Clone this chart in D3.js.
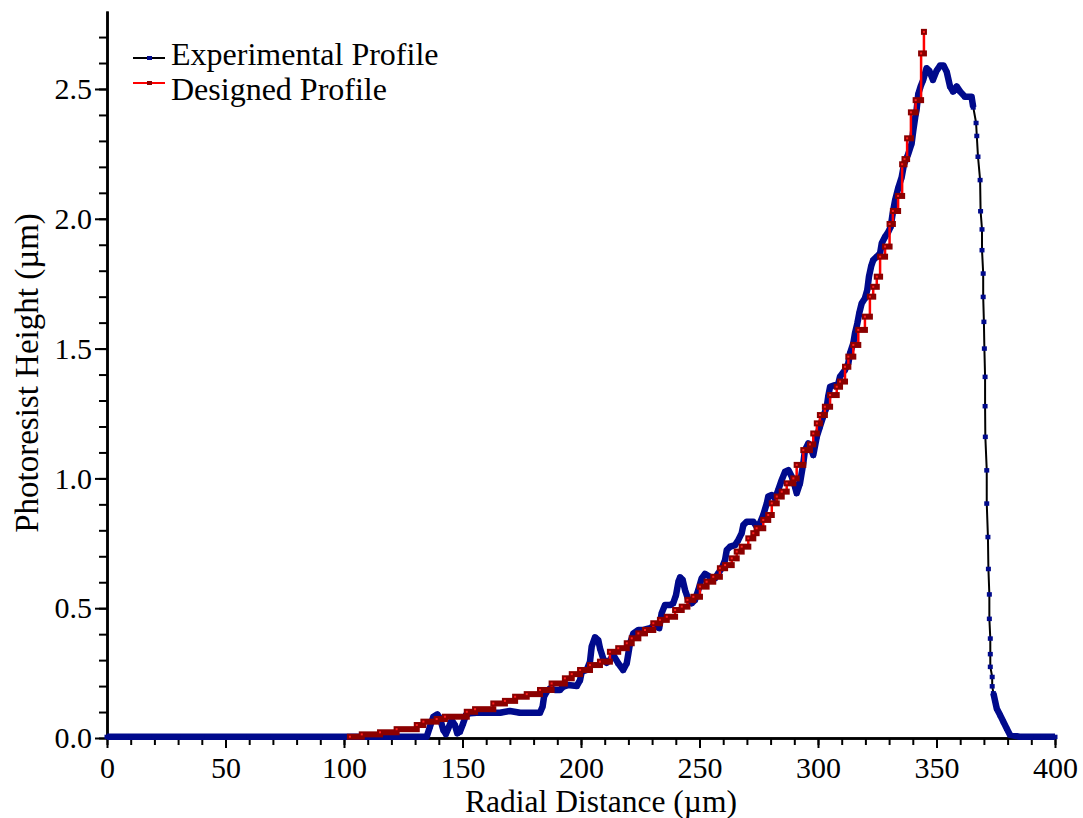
<!DOCTYPE html>
<html>
<head>
<meta charset="utf-8">
<script src="https://cdn.jsdelivr.net/npm/d3@7"></script>
<style>
  body { margin: 0; background: #fff; }
  text { font-family: "Liberation Serif", "Times New Roman", serif; fill: #000; }
</style>
</head>
<body>
<div id="chart"></div>
<script>
// Data (radial distance in um, height in um)
var experimental = [
  [0,0.005],[10,0.005],[20,0.005],[30,0.005],[40,0.005],[50,0.005],[60,0.005],[70,0.005],[80,0.005],[90,0.005],
  [100,0.005],[110,0.005],[120,0.005],[130,0.005],[134.9,0.005],
  [136.3,0.044],[137.7,0.082],[139.4,0.091],[140.5,0.076],[141.9,0.031],[143.0,0.015],[144.0,0.037],[145.4,0.069],
  [146.8,0.050],[147.8,0.018],[148.9,0.024],[150.3,0.057],[151.5,0.089],[153.2,0.095],[156.0,0.097],[160.0,0.097],
  [165.8,0.097],[170.0,0.104],[174.3,0.097],[178.0,0.097],[182.7,0.097],[183.8,0.121],[184.4,0.159],[185.5,0.178],
  [186.9,0.191],[189.0,0.185],[191.1,0.185],[192.5,0.198],[194.6,0.204],[198.2,0.200],[199.6,0.223],[200.3,0.255],
  [202.4,0.262],[203.8,0.294],[204.5,0.352],[205.9,0.388],[207.3,0.377],[208.0,0.346],[209.4,0.305],[210.8,0.290],
  [212.2,0.300],[213.6,0.320],[215.7,0.288],[217.8,0.262],[219.3,0.288],[220.0,0.326],[220.7,0.365],[222.1,0.403],
  [224.2,0.416],[226.3,0.416],[229.1,0.423],[231.2,0.435],[233.0,0.423],[234.0,0.480],[235.4,0.512],[237.6,0.512],
  [238.9,0.519],[240.1,0.551],[241.1,0.602],[241.8,0.619],[242.9,0.609],[243.9,0.570],[245.3,0.532],[246.7,0.519],
  [248.1,0.532],[249.5,0.570],[250.9,0.615],[252.3,0.632],[254.4,0.621],[256.5,0.615],[257.9,0.634],[259.4,0.654],
  [260.8,0.686],[261.5,0.724],[262.9,0.737],[265.0,0.743],[266.4,0.763],[267.8,0.789],[268.5,0.820],[269.9,0.833],
  [272.7,0.833],[274.1,0.814],[275.5,0.827],[276.9,0.859],[278.4,0.904],[279.0,0.930],[280.5,0.936],[281.9,0.923],
  [283.2,0.955],[284.7,0.994],[286.1,1.026],[287.5,1.032],[288.9,1.007],[290.3,0.968],[291.0,0.943],[292.4,0.981],
  [293.8,1.058],[294.5,1.109],[295.9,1.135],[297.3,1.109],[298.0,1.090],[299.5,1.161],[300.8,1.199],[302.2,1.238],
  [303.7,1.276],[304.3,1.315],[305.1,1.353],[307.2,1.360],[308.6,1.366],[309.3,1.392],[311.4,1.418],[312.8,1.443],
  [313.5,1.482],[314.9,1.520],[315.6,1.559],[316.6,1.597],[317.4,1.636],[318.4,1.674],[319.8,1.694],[320.8,1.726],
  [321.5,1.777],[322.4,1.816],[323.3,1.841],[324.8,1.854],[326.2,1.867],[326.9,1.906],[328.3,1.931],[329.7,1.950],
  [330.7,1.970],[331.5,2.020],[332.5,2.070],[333.9,2.120],[335.3,2.160],[336.3,2.210],[338.1,2.250],[339.5,2.290],
  [340.2,2.340],[341.0,2.390],[341.6,2.420],[342.3,2.480],[343.3,2.510],[344.4,2.535],[345.8,2.580],[347.0,2.570],
  [348.5,2.535],[350.0,2.570],[351.5,2.590],[353.0,2.590],[354.3,2.566],[355.7,2.510],[357.0,2.490],[358.5,2.510],
  [360.0,2.490],[362.0,2.470],[364.8,2.470],[365.5,2.430],[366.7,2.370],[367.0,2.320],[367.5,2.240],[368.4,2.150],
  [368.6,2.030],[369.2,1.960],[369.2,1.880],[369.7,1.790],[369.7,1.700],[370.0,1.604],[370.2,1.501],[370.5,1.392],
  [370.5,1.279],[370.6,1.161],[371.2,1.032],[371.2,0.904],[371.7,0.775],[371.9,0.652],[372.3,0.554],[372.3,0.460],
  [372.7,0.384],[372.7,0.324],[372.7,0.275],[373.5,0.236],[373.5,0.200],[374.0,0.173],[375.4,0.114],[376.8,0.089],
  [378.2,0.063],[379.6,0.037],[381.0,0.012],[385,0.005],[390,0.005],[395,0.005],[400,0.005]
];

var designed = [
  [102.5,0.005],[107.5,0.014],[115.2,0.022],[122.2,0.034],[130.7,0.050],[133.5,0.063],[139.1,0.073],[142.6,0.082],
  [151.8,0.101],[155.3,0.111],[163.0,0.133],[167.9,0.143],[172.2,0.159],[177.1,0.169],[182.7,0.185],[187.6,0.210],
  [193.2,0.230],[196.1,0.246],[199.6,0.262],[203.8,0.281],[208.0,0.294],[212.2,0.332],[215.7,0.346],[219.3,0.365],
  [221.4,0.384],[224.2,0.403],[227.0,0.416],[230.5,0.442],[233.3,0.455],[236.2,0.467],[239.7,0.493],[242.5,0.506],
  [244.9,0.532],[247.4,0.544],[250.2,0.583],[253.0,0.602],[255.8,0.621],[258.6,0.654],[260.8,0.666],[263.6,0.692],
  [265.7,0.718],[267.8,0.737],[270.6,0.769],[272.7,0.789],[274.1,0.808],[276.9,0.840],[279.0,0.859],[280.5,0.904],
  [282.6,0.930],[284.7,0.949],[286.8,0.981],[289.6,1.000],[291.0,1.052],[293.8,1.109],[296.6,1.131],[298.0,1.173],
  [299.5,1.212],[300.8,1.244],[302.9,1.276],[305.1,1.321],[307.9,1.353],[309.3,1.373],[311.4,1.430],[312.8,1.469],
  [314.9,1.514],[317.0,1.572],[319.8,1.623],[321.9,1.700],[323.3,1.738],[324.8,1.777],[326.2,1.854],[328.3,1.893],
  [330.2,1.980],[331.6,2.030],[333.8,2.088],[335.5,2.210],[336.5,2.230],[337.6,2.310],[339.2,2.410],[341.2,2.457],
  [343.5,2.637],[344.7,2.720]
];

// steep fall-off of the measured profile, where single samples are visible
var sparseRange = [366.4, 373.8];

var xMajor = [0, 50, 100, 150, 200, 250, 300, 350, 400];
var xMinor = d3.range(0, 401, 10);
var yMajor = [0, 0.5, 1.0, 1.5, 2.0, 2.5];
var yMinor = d3.range(0, 28).map(function(i) { return i / 10; });
var seriesNames = ["Experimental Profile", "Designed Profile"];

var width = 1083, height = 818;

var x = d3.scaleLinear().domain([0, 400]).range([107, 1055]);
var y = d3.scaleLinear().domain([0, 2.8]).range([738, 11.1]);

var svg = d3.select("#chart")
  .append("svg")
  .attr("width", width)
  .attr("height", height);

// Axes
var yAxisMinor = d3.axisLeft(y).tickValues(yMinor).tickSize(8).tickSizeOuter(0).tickFormat("");
var yAxis = d3.axisLeft(y).tickValues(yMajor).tickSize(12).tickSizeOuter(0).tickPadding(3)
  .tickFormat(d3.format(".1f"));
var xAxisMinor = d3.axisBottom(x).tickValues(xMinor).tickSize(7).tickSizeOuter(0).tickFormat("");
var xAxis = d3.axisBottom(x).tickValues(xMajor).tickSize(10).tickSizeOuter(0).tickPadding(9);

function styleAxis(g) {
  g.selectAll("path.domain").attr("stroke", "#000").attr("stroke-width", 2.5);
  g.selectAll(".tick line").attr("stroke", "#000").attr("stroke-width", 2);
  g.selectAll(".tick text").attr("font-size", 30).attr("font-family", "Liberation Serif");
}

svg.append("g").attr("transform", "translate(" + x(0) + ",0)").call(yAxisMinor).call(styleAxis);
svg.append("g").attr("transform", "translate(" + x(0) + ",0)").call(yAxis).call(styleAxis);
svg.append("g").attr("transform", "translate(0," + y(0) + ")").call(xAxisMinor).call(styleAxis);
svg.append("g").attr("transform", "translate(0," + y(0) + ")").call(xAxis).call(styleAxis);

// Axis titles
svg.append("text")
  .attr("x", 601)
  .attr("y", 812)
  .attr("text-anchor", "middle")
  .attr("font-size", 31.5)
  .text("Radial Distance (\u00b5m)");

svg.append("text")
  .attr("transform", "translate(38,373) rotate(-90)")
  .attr("text-anchor", "middle")
  .attr("font-size", 33)
  .text("Photoresist Height (\u00b5m)");

// Experimental profile: thin black line, dense samples form a blue band
var line = d3.line()
  .x(function(d) { return x(d[0]); })
  .y(function(d) { return y(d[1]); });

function isDense(d) {
  return d[0] < sparseRange[0] || d[0] > sparseRange[1];
}

var expG = svg.append("g");
expG.append("path")
  .datum(experimental)
  .attr("fill", "none")
  .attr("stroke", "#000")
  .attr("stroke-width", 2)
  .attr("d", line);

expG.append("path")
  .datum(experimental)
  .attr("fill", "none")
  .attr("stroke", "#000a8c")
  .attr("stroke-width", 6.5)
  .attr("stroke-linejoin", "round")
  .attr("d", line.defined(isDense));
line.defined(function() { return true; });

expG.selectAll("rect.exp")
  .data(experimental)
  .enter()
  .append("rect")
  .classed("exp", true)
  .attr("x", function(d) { return x(d[0]) - 2.5; })
  .attr("y", function(d) { return y(d[1]) - 2; })
  .attr("width", 5)
  .attr("height", 4.5)
  .attr("fill", "#000a8c");

// Designed profile: stepped red line, dark red steps
var stepLine = d3.line()
  .curve(d3.curveStepAfter)
  .x(function(d) { return x(d[0]); })
  .y(function(d) { return y(d[1]); });

var desG = svg.append("g");
var steps = designed.map(function(d, i, a) {
  var next = i < a.length - 1 ? a[i + 1] : d;
  return { x0: d[0], x1: next[0], v: d[1] };
});

desG.append("path")
  .datum(designed)
  .attr("fill", "none")
  .attr("stroke", "#ff0000")
  .attr("stroke-width", 2.5)
  .attr("d", stepLine);

desG.selectAll("rect.step")
  .data(steps)
  .enter()
  .append("rect")
  .classed("step", true)
  .attr("x", function(d) { return x(d.x0) - 3; })
  .attr("y", function(d) { return y(d.v) - 3; })
  .attr("width", function(d) { return x(d.x1) - x(d.x0) + 6; })
  .attr("height", 6)
  .attr("fill", "#8b0000");

desG.selectAll("rect.dot")
  .data(designed)
  .enter()
  .append("rect")
  .classed("dot", true)
  .attr("x", function(d) { return x(d[0]) - 1; })
  .attr("y", function(d) { return y(d[1]) - 1; })
  .attr("width", 2)
  .attr("height", 2)
  .attr("fill", "#ff2020");

// Legend
var legend = svg.append("g");
var legendRows = [
  { name: seriesNames[0], line: "#000", marker: "#000a8c", ly: 58, ty: 65 },
  { name: seriesNames[1], line: "#ff0000", marker: "#8b0000", ly: 83, ty: 100 }
];
legendRows.forEach(function(r) {
  legend.append("line")
    .attr("x1", 133).attr("x2", 165)
    .attr("y1", r.ly).attr("y2", r.ly)
    .attr("stroke", r.line)
    .attr("stroke-width", 2);
  legend.append("rect")
    .attr("x", 147).attr("y", r.ly - 2)
    .attr("width", 5).attr("height", 4)
    .attr("fill", r.marker);
  legend.append("text")
    .attr("x", 171)
    .attr("y", r.ty)
    .attr("font-size", 32)
    .text(r.name);
});
</script>
</body>
</html>
